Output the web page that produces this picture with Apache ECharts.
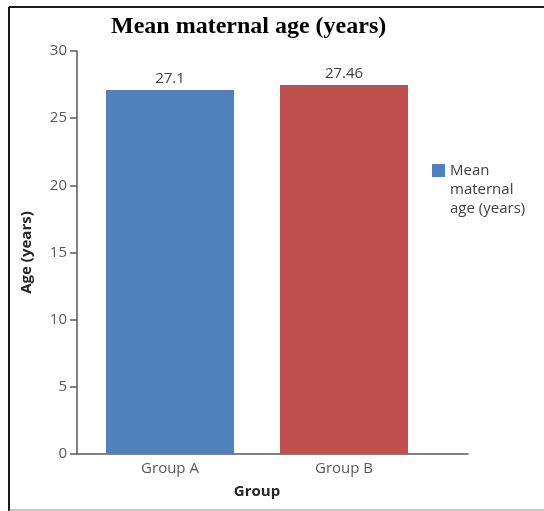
<!DOCTYPE html>
<html>
<head>
<meta charset="utf-8">
<script src="https://cdn.jsdelivr.net/npm/echarts@6/dist/echarts.min.js"></script>
<style>
  html, body { margin: 0; padding: 0; background: #fff; }
  #chart { width: 544px; height: 511px; }
</style>
</head>
<body>
<div id="chart"></div>
<script>
// Mean maternal age per group
const groups = ['Group A', 'Group B'];
const meanAge = [27.1, 27.46];
const barColors = ['#4F81BD', '#C0504D'];
const seriesName = 'Mean maternal age (years)';
const legendLines = ['Mean', 'maternal', 'age (years)'];

const chart = echarts.init(document.getElementById('chart'), null, { renderer: 'canvas' });

const sansFont = '"Open Sans", "DejaVu Sans", sans-serif';

// legend entry: colour swatch on the first line, wrapped name beside it
const legendText = '{box|}{sp|}{t|' + legendLines[0] + '}\n' +
  legendLines.slice(1).map(s => '{ind|}{t|' + s + '}').join('\n');

chart.setOption({
  backgroundColor: '#ffffff',
  animation: false,
  title: {
    text: 'Mean maternal age (years)',
    left: 106,
    top: 10,
    textStyle: {
      fontFamily: '"Liberation Serif", "DejaVu Serif", serif',
      fontWeight: 'bold',
      fontSize: 24,
      color: '#000000'
    }
  },
  legend: {
    left: 422,
    top: 156,
    orient: 'vertical',
    itemWidth: 0,
    itemHeight: 0,
    icon: 'rect',
    data: [{ name: seriesName }],
    formatter: () => legendText,
    textStyle: {
      fontFamily: sansFont,
      fontSize: 15,
      lineHeight: 19,
      color: '#404040',
      rich: {
        box: { width: 13, height: 13, backgroundColor: barColors[0] },
        sp: { width: 5 },
        ind: { width: 18 },
        t: { fontFamily: sansFont, fontSize: 15, lineHeight: 19, color: '#404040' }
      }
    }
  },
  grid: [
    { left: 83, width: 348, top: 51, bottom: 57 },
    { left: 77, width: 391, top: 51, bottom: 57 }
  ],
  xAxis: [
    {
      type: 'category',
      gridIndex: 0,
      data: groups,
      axisLine: { show: false },
      axisTick: { show: false },
      axisLabel: {
        fontFamily: sansFont,
        fontSize: 15,
        color: '#595959',
        margin: 7
      },
      name: 'Group',
      nameLocation: 'center',
      nameGap: 30,
      nameTextStyle: {
        fontFamily: sansFont,
        fontSize: 15,
        fontWeight: 'bold',
        color: '#262626'
      }
    },
    {
      type: 'value',
      gridIndex: 1,
      min: 0,
      max: 1,
      axisLine: { show: true, lineStyle: { color: '#595959', width: 1.5 } },
      axisTick: { show: false },
      axisLabel: { show: false },
      splitLine: { show: false }
    }
  ],
  yAxis: [
    {
      type: 'value',
      gridIndex: 0,
      min: 0,
      max: 30,
      interval: 5,
      offset: 6,
      axisLine: { show: true, lineStyle: { color: '#595959', width: 1.5 } },
      axisTick: { show: true, length: 7, lineStyle: { color: '#595959', width: 1.5 } },
      axisLabel: {
        fontFamily: sansFont,
        fontSize: 15,
        color: '#595959',
        margin: 10
      },
      splitLine: { show: false },
      name: 'Age (years)',
      nameLocation: 'center',
      nameGap: 43,
      nameTextStyle: {
        fontFamily: sansFont,
        fontSize: 15,
        fontWeight: 'bold',
        color: '#262626'
      }
    },
    {
      type: 'value',
      gridIndex: 1,
      show: false
    }
  ],
  series: [
    {
      name: seriesName,
      type: 'bar',
      xAxisIndex: 0,
      yAxisIndex: 0,
      barWidth: 128,
      data: meanAge.map((v, i) => ({ value: v, itemStyle: { color: barColors[i] } })),
      label: {
        show: true,
        position: 'top',
        distance: 4,
        fontFamily: sansFont,
        fontSize: 15,
        color: '#404040'
      }
    }
  ],
  graphic: [
    { type: 'line', shape: { x1: 9, y1: 7, x2: 544, y2: 7 }, style: { stroke: '#1a1a1a', lineWidth: 2 } },
    { type: 'line', shape: { x1: 9, y1: 7, x2: 9, y2: 511 }, style: { stroke: '#1a1a1a', lineWidth: 2 } },
    { type: 'line', shape: { x1: 9, y1: 510, x2: 544, y2: 510 }, style: { stroke: '#8c8c8c', lineWidth: 1 } }
  ]
});
</script>
</body>
</html>
